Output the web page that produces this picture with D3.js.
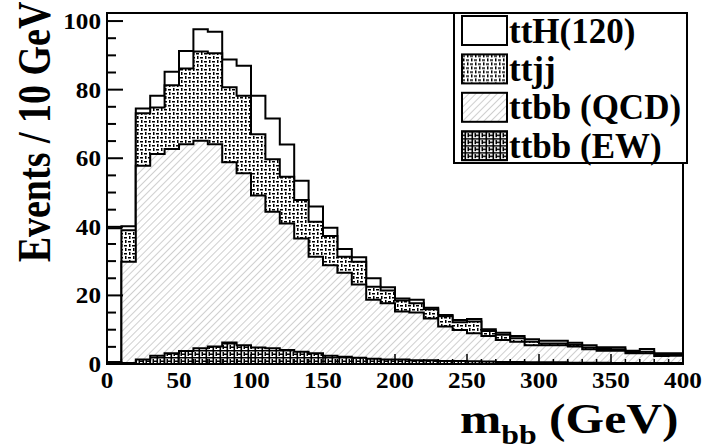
<!DOCTYPE html>
<html>
<head>
<meta charset="utf-8">
<script src="https://cdn.jsdelivr.net/npm/d3@7"></script>
<style>
  body { margin: 0; background: #fff; }
  text { font-family: "Liberation Serif", "Times New Roman", serif; font-weight: bold; fill: #000; }
</style>
</head>
<body>
<div id="chart"></div>
<script>
const width = 711, height = 448;
const margins = { top: 13, right: 25, bottom: 84, left: 107 };

// lower edges of the 10 GeV bins, 0..390
const binLow = d3.range(0, 400, 10);

// events per bin, each process alone (stacked bottom -> top: EW, QCD, ttjj, ttH)
const ttbbEW = [0.5, 0.3, 1.3, 2.4, 3.1, 3.8, 4.6, 5.1, 6.3, 5.5,
                4.8, 4.6, 4.1, 3.6, 3.1, 2.4, 2.1, 1.8, 1.5, 1.3,
                1.3, 1.1, 1.1, 0.9, 0.9, 0.8, 0.7, 0.6, 0.6, 0.5,
                0.5, 0.5, 0.4, 0.4, 0.4, 0.3, 0.3, 0.3, 0.3, 0.3];
const ttbbQCD = [0, 29.5, 56.5, 58.8, 59.6, 60.3, 60.5, 59.0, 52.5, 50.1,
                 44.3, 39.8, 36.9, 33.0, 28.2, 26.4, 24.5, 21.4, 17.2, 16.4,
                 14.0, 13.9, 12.2, 10.0, 9.0, 8.2, 7.5, 6.4, 5.9, 5.0,
                 5.0, 5.0, 4.7, 3.9, 3.5, 3.6, 2.8, 2.8, 2.0, 2.1];
const ttjj = [0, 9.2, 15.3, 13.6, 18.6, 22.1, 26.0, 26.5, 21.9, 22.6,
              17.9, 15.3, 13.6, 11.2, 10.2, 8.5, 4.7, 6.6, 3.8, 3.7,
              3.2, 2.7, 2.7, 3.0, 2.3, 3.4, 1.4, 1.5, 1.0, 1.0,
              0.5, 0.5, 0.5, 0.5, 0.5, 0.4, 0.4, 0.5, 0.4, 0.3];
const ttH120 = [39.1, 1.2, 1.4, 3.4, 3.9, 5.1, 6.5, 6.3, 8.1, 8.8,
                11.2, 11.9, 9.4, 5.6, 4.4, 2.4, 2.2, 1.3, 2.5, 1.0,
                0.6, 1.0, 0.4, 0.4, 0.6, 0.7, 0.5, 0.6, 0.7, 0.7,
                0.8, 0.8, 0.6, 0.7, 0.5, 0.6, 0.4, 0.8, 0.4, 0.4];

const yTicks = [0, 20, 40, 60, 80, 100];
const xTicks = [0, 50, 100, 150, 200, 250, 300, 350, 400];
const legendLabels = ["ttH(120)", "ttjj", "ttbb (QCD)", "ttbb (EW)"];

const svg = d3.select("#chart")
    .append("svg")
    .attr("width", width)
    .attr("height", height);

const x = d3.scaleLinear().domain([0, 400]).range([margins.left, width - margins.right - 3]);
const y = d3.scaleLinear().domain([0, 102.35]).range([height - margins.bottom, margins.top]);

// fill patterns
const defs = svg.append("defs");
const hatch = defs.append("pattern")
    .attr("id", "hatch").attr("patternUnits", "userSpaceOnUse")
    .attr("width", 5).attr("height", 5)
    .attr("patternTransform", "rotate(45)");
hatch.append("rect").attr("width", 5).attr("height", 5).attr("fill", "#fff");
hatch.append("line").attr("x1", 0.5).attr("y1", 0).attr("x2", 0.5).attr("y2", 5)
    .attr("stroke", "#cfcfcf").attr("stroke-width", 1);

const checks = defs.append("pattern")
    .attr("id", "checks").attr("patternUnits", "userSpaceOnUse")
    .attr("width", 8).attr("height", 8);
checks.append("rect").attr("width", 8).attr("height", 8).attr("fill", "#fff");
checks.append("path")
    .attr("d", "M0 1h3v1.5h-3z M5 0h1.5v3h-1.5z M4 5h3v1.5h-3z M1 4h1.5v3h-1.5z")
    .attr("fill", "#000");

const dense = defs.append("pattern")
    .attr("id", "dense").attr("patternUnits", "userSpaceOnUse")
    .attr("width", 7).attr("height", 7);
dense.append("rect").attr("width", 7).attr("height", 7).attr("fill", "#fff");
dense.append("path")
    .attr("d", "M0 0h7v1.6h-7z M0 3.5h4v1.6h-4z M2.5 0h1.6v7h-1.6z M5.5 2h1.5v4h-1.5z")
    .attr("fill", "#000");

// stacked tops
const layers = [
    { name: "ttbb (EW)", values: ttbbEW, fill: "url(#dense)" },
    { name: "ttbb (QCD)", values: ttbbQCD, fill: "url(#hatch)" },
    { name: "ttjj", values: ttjj, fill: "url(#checks)" },
    { name: "ttH(120)", values: ttH120, fill: "#fff" }
];
let running = binLow.map(() => 0);
layers.forEach(l => {
    running = running.map((r, i) => r + l.values[i]);
    l.cum = running.slice();
});

const area = d3.area()
    .curve(d3.curveStepAfter)
    .x(d => x(d.x))
    .y0(y(0))
    .y1(d => y(d.v));

const histGroup = svg.append("g").attr("class", "hists");
histGroup.selectAll("path")
    .data(layers.slice().reverse())
    .join("path")
    .attr("d", l => {
        const pts = binLow.map((b, i) => ({ x: b, v: l.cum[i] }));
        pts.push({ x: 400, v: l.cum[l.cum.length - 1] });
        return area(pts);
    })
    .attr("fill", l => l.fill)
    .attr("stroke", "#000")
    .attr("stroke-width", 2)
    .attr("stroke-linejoin", "miter");

// frame
svg.append("rect")
    .attr("x", x(0)).attr("y", margins.top)
    .attr("width", x(400) - x(0)).attr("height", y(0) - margins.top)
    .attr("fill", "none").attr("stroke", "#000").attr("stroke-width", 2);

// y ticks (inside, pointing right)
const axesGroup = svg.append("g").attr("class", "axes");
axesGroup.selectAll(".ytick")
    .data(d3.range(0, 101, 5))
    .join("line")
    .attr("x1", x(0)).attr("x2", d => x(0) + (d % 20 === 0 ? 16 : 9))
    .attr("y1", d => y(d)).attr("y2", d => y(d))
    .attr("stroke", "#000").attr("stroke-width", 2);
axesGroup.selectAll(".ylab")
    .data(yTicks)
    .join("text")
    .attr("transform", d => `translate(${x(0) - 6},${y(d) + 8}) scale(1.05,1)`)
    .attr("text-anchor", "end")
    .style("font-size", "24px")
    .text(d => d);

// x ticks (inside, pointing up)
axesGroup.selectAll(".xtick")
    .data(d3.range(0, 401, 10))
    .join("line")
    .attr("x1", d => x(d)).attr("x2", d => x(d))
    .attr("y1", y(0)).attr("y2", d => y(0) - (d % 50 === 0 ? 10 : 5))
    .attr("stroke", "#000").attr("stroke-width", 1.5);
axesGroup.selectAll(".xlab")
    .data(xTicks)
    .join("text")
    .attr("transform", d => `translate(${x(d)},388) scale(1.05,1)`)
    .attr("text-anchor", "middle")
    .style("font-size", "24px")
    .text(d => d);

// axis titles
svg.append("text")
    .attr("transform", "translate(49.5,132) rotate(-90) scale(1,1.2)")
    .attr("text-anchor", "middle")
    .style("font-size", "38px")
    .text("Events / 10 GeV");

const xt = svg.append("text")
    .attr("transform", "translate(460,433) scale(1.18,1)")
    .style("font-size", "42px");
xt.append("tspan").text("m");
xt.append("tspan").attr("dy", 11).style("font-size", "27px").text("bb");
xt.append("tspan").attr("dy", -11).text(" (GeV)");

// legend
const legend = svg.append("g").attr("class", "legend");
legend.append("rect")
    .attr("x", 454).attr("y", margins.top)
    .attr("width", 233).attr("height", 150)
    .attr("fill", "#fff").attr("stroke", "#000").attr("stroke-width", 2);
const rows = legend.selectAll(".row")
    .data(layers.slice().reverse())
    .join("g")
    .attr("transform", (d, i) => `translate(462,${16 + i * 38.4})`);
rows.append("rect")
    .attr("width", 45).attr("height", 29)
    .attr("fill", d => d.fill)
    .attr("stroke", "#000").attr("stroke-width", 2);
rows.append("text")
    .attr("x", 47).attr("y", 26.5)
    .style("font-size", "35px")
    .text((d, i) => legendLabels[i]);
</script>
</body>
</html>
